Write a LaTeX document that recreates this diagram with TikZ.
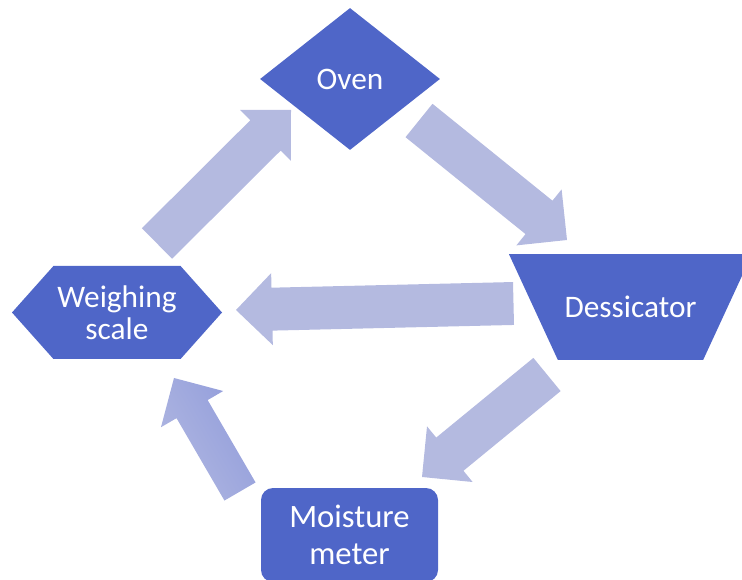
\documentclass[tikz,border=0pt]{standalone}
\usepackage{fontspec}
\setmainfont{Carlito}
\usetikzlibrary{shapes.geometric,shapes.symbols,calc}
\definecolor{shapeblue}{RGB}{79,102,200}
\definecolor{arrowblue}{RGB}{180,186,224}
\definecolor{arrowdark}{RGB}{146,157,219}
\definecolor{arrowlight}{RGB}{176,183,225}
\tikzset{stage/.style={fill=shapeblue,draw=none,text=white,inner sep=0pt,align=center,font=\fontsize{23.5}{24}\selectfont}}
% block arrow from #2 (tail) to #3 (tip), half shaft width #4
\newcommand{\blockarrow}[4][fill=arrowblue]{%
    \coordinate (neck) at ($(#3)!27pt!(#2)$);
    \path[#1] ($(#2)!#4!90:(#3)$) -- ($(neck)!#4!-90:(#2)$) -- ($(neck)!27pt!-90:(#2)$) -- (#3)
        -- ($(neck)!27pt!90:(#2)$) -- ($(neck)!#4!90:(#2)$) -- ($(#2)!#4!-90:(#3)$) -- cycle;
}

\begin{document}
\begin{tikzpicture}[x=0.75pt,y=-0.75pt]
    \clip (0,0) rectangle (742,580);

    \coordinate (tail1) at (157,243.5);
    \coordinate (tip1) at (291,110);
    \coordinate (tail2) at (419,120.5);
    \coordinate (tip2) at (567,240);
    \coordinate (tail3) at (513.5,303.5);
    \coordinate (tip3) at (236,310);
    \coordinate (tail4) at (547,374.5);
    \coordinate (tip4) at (422,477);
    \coordinate (tail5) at (240,491.5);
    \coordinate (tip5) at (174,378);

    \foreach \n in {1,...,4}
        {
        \blockarrow{tail\n}{tip\n}{16.1pt}
        }
    \blockarrow[left color=arrowdark,right color=arrowlight,shading angle=-60]{tail5}{tip5}{13.5pt}

    \node [stage, diamond, minimum width=135pt, minimum height=106.5pt] (oven) at (350,79) {Oven};
    \node [stage, trapezium, trapezium stretches body=true, trapezium left angle=65.2, trapezium right angle=65.2, shape border rotate=180, inner ysep=31.4pt, minimum width=182.25pt] (dessicator) at (630.5,307) {Dessicator};
    \node [stage, rectangle, rounded corners=9pt, minimum width=132.75pt, minimum height=70.5pt, font=\fontsize{24.5}{27.75}\selectfont] (moisture) at (349.5,535) {Moisture\\meter};
    \node [stage, signal, signal to=west and east, signal pointer angle=96.6, minimum width=157.5pt, minimum height=69.75pt] (scale) at (117,312.5) {Weighing\\scale};
\end{tikzpicture}
\end{document}
